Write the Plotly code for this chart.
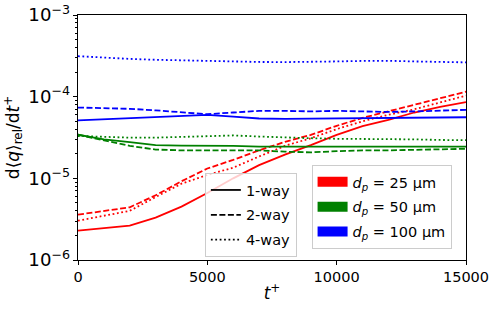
import plotly.graph_objects as go

t = [0, 1000, 2000, 3000, 4000, 5000, 6000, 7000, 8000, 9000, 10000, 11000, 12000, 13000, 14000, 15000]

red_1way = [2.29e-6, 2.45e-6, 2.63e-6, 3.3e-6, 4.5e-6, 6.6e-6, 1.0e-5, 1.45e-5, 1.95e-5, 2.55e-5, 3.4e-5, 4.35e-5, 5.2e-5, 6.4e-5, 7.5e-5, 8.6e-5]
red_2way = [3.59e-6, 3.95e-6, 4.42e-6, 6.2e-6, 9.2e-6, 1.32e-5, 1.68e-5, 2.2e-5, 2.8e-5, 3.4e-5, 4.4e-5, 5.5e-5, 6.6e-5, 8.0e-5, 9.6e-5, 1.15e-4]
red_4way = [3.03e-6, 3.45e-6, 4.0e-6, 5.9e-6, 8.6e-6, 1.1e-5, 1.35e-5, 1.85e-5, 2.5e-5, 3.1e-5, 4.0e-5, 5.0e-5, 6.0e-5, 7.0e-5, 8.5e-5, 1.03e-4]

green_1way = [3.42e-5, 3.0e-5, 2.78e-5, 2.55e-5, 2.52e-5, 2.53e-5, 2.5e-5, 2.45e-5, 2.45e-5, 2.45e-5, 2.45e-5, 2.42e-5, 2.4e-5, 2.4e-5, 2.42e-5, 2.45e-5]
green_2way = [3.42e-5, 2.95e-5, 2.5e-5, 2.25e-5, 2.2e-5, 2.2e-5, 2.2e-5, 2.2e-5, 2.12e-5, 2.08e-5, 2.15e-5, 2.2e-5, 2.2e-5, 2.22e-5, 2.25e-5, 2.3e-5]
green_4way = [3.3e-5, 3.2e-5, 3.15e-5, 3.15e-5, 3.2e-5, 3.3e-5, 3.35e-5, 3.25e-5, 3.15e-5, 3.1e-5, 3.05e-5, 3.05e-5, 3.0e-5, 3.0e-5, 2.95e-5, 2.93e-5]

blue_1way = [5.13e-5, 5.3e-5, 5.5e-5, 5.65e-5, 5.8e-5, 6.0e-5, 5.7e-5, 5.4e-5, 5.35e-5, 5.4e-5, 5.45e-5, 5.5e-5, 5.55e-5, 5.6e-5, 5.6e-5, 5.6e-5]
blue_2way = [7.36e-5, 7.3e-5, 7.1e-5, 6.8e-5, 6.4e-5, 6.1e-5, 6.4e-5, 6.7e-5, 6.7e-5, 6.6e-5, 6.7e-5, 6.6e-5, 6.5e-5, 6.6e-5, 6.8e-5, 6.9e-5]
blue_4way = [3.13e-4, 3.0e-4, 2.9e-4, 2.83e-4, 2.78e-4, 2.72e-4, 2.68e-4, 2.66e-4, 2.65e-4, 2.66e-4, 2.7e-4, 2.74e-4, 2.75e-4, 2.7e-4, 2.66e-4, 2.63e-4]

x_tick_vals = [0, 5000, 10000, 15000]
x_tick_text = ["0", "5000", "10000", "15000"]

coupling_labels = ["1-way", "2-way", "4-way"]
size_labels = ["<i>d</i><sub><i>p</i></sub> = 25 μm", "<i>d</i><sub><i>p</i></sub> = 50 μm", "<i>d</i><sub><i>p</i></sub> = 100 μm"]
colors = ["#ff0000", "#008000", "#0000ff"]
dashes = ["solid", "6px,2.5px", "1.8px,2.6px"]

series = [
    [red_1way, red_2way, red_4way],
    [green_1way, green_2way, green_4way],
    [blue_1way, blue_2way, blue_4way],
]

FONT = "DejaVu Sans"
fig = go.Figure()

for ci, group in enumerate(series):
    for di, ys in enumerate(group):
        fig.add_trace(go.Scatter(
            x=t, y=ys, mode="lines", showlegend=False,
            line=dict(color=colors[ci], width=1.8, dash=dashes[di]),
            hoverinfo="skip",
        ))

for di, lab in enumerate(coupling_labels):
    fig.add_trace(go.Scatter(
        x=[None], y=[None], mode="lines", name=lab, legend="legend",
        legendgroup="c%d" % di,
        line=dict(color="black", width=1.8, dash=dashes[di]),
    ))

for ci, lab in enumerate(size_labels):
    fig.add_trace(go.Scatter(
        x=[None], y=[None], mode="lines", name=lab, legend="legend2",
        legendgroup="s%d" % ci,
        line=dict(color=colors[ci], width=11),
    ))

fig.update_layout(
    width=499, height=315,
    margin=dict(l=78, r=33, t=15, b=55, autoexpand=False),
    paper_bgcolor="white", plot_bgcolor="white",
    font=dict(family=FONT, size=14.5, color="black"),
    legend=dict(
        x=0.327, y=0.355, xanchor="left", yanchor="top",
        bgcolor="rgba(255,255,255,0.8)", bordercolor="#cccccc", borderwidth=1,
        font=dict(family=FONT, size=14.5), itemwidth=30, tracegroupgap=3,
    ),
    legend2=dict(
        x=0.602, y=0.388, xanchor="left", yanchor="top",
        bgcolor="rgba(255,255,255,0.8)", bordercolor="#cccccc", borderwidth=1,
        font=dict(family=FONT, size=14.5), itemwidth=30, tracegroupgap=3,
    ),
)

fig.update_xaxes(
    range=[0, 15000], tickvals=x_tick_vals, ticktext=x_tick_text,
    ticks="outside", ticklen=4, tickcolor="black", automargin=False,
    showline=True, linecolor="black", linewidth=1, mirror=True,
    showgrid=False, zeroline=False,
    title=dict(text="<i>t</i><sup>+</sup>", font=dict(size=17), standoff=2),
)
fig.update_yaxes(
    type="log", range=[-6, -3], dtick=1, exponentformat="power",
    ticks="outside", ticklen=4, tickcolor="black", automargin=False,
    minor=dict(ticks="outside", ticklen=2, tickcolor="black", showgrid=False),
    showline=True, linecolor="black", linewidth=1, mirror=True,
    showgrid=False, zeroline=False,
    title=dict(text="d⟨<i>q</i>⟩<sub>rel</sub>/d<i>t</i><sup>+</sup>", font=dict(size=17), standoff=4),
)

fig.write_html(
    "out.html",
    config={"displayModeBar": False, "staticPlot": True},
    post_script="document.body.style.margin='0';document.body.style.overflow='hidden';",
)
